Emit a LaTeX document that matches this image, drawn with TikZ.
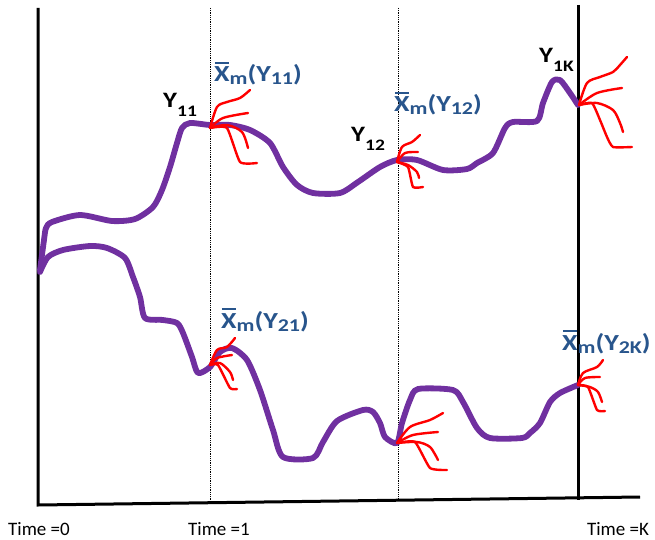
\documentclass[tikz,border=0pt]{standalone}
\usepackage{fontspec}
\setmainfont{Carlito}
\definecolor{pathpurple}{RGB}{112,48,160}
\definecolor{labelblue}{RGB}{40,85,140}
\definecolor{branchred}{RGB}{255,0,0}
\newcommand\barX{\ooalign{X\cr\hfil\rule[0.78em]{0.5em}{0.09em}\hfil\cr}}
\newcommand\xsub[1]{\raisebox{-3pt}{\fontsize{18}{18}\selectfont #1}}
\newcommand\ysub[1]{\raisebox{-9pt}{\fontsize{16}{16}\selectfont #1}}
\newcommand\wide[1]{\scalebox{1.22}[1]{#1}}
\begin{document}
\begin{tikzpicture}[x=1pt,y=-1pt,
  axis/.style={line width=3pt},
  timeline/.style={line width=0.8pt, densely dotted},
  traj/.style={pathpurple, line width=5.8pt, line join=round, line cap=round},
  branch/.style={branchred, line width=2.4pt, line cap=round, line join=round},
  ylab/.style={font=\bfseries\fontsize{22}{24}\selectfont, inner sep=0pt, anchor=base west},
  xlab/.style={labelblue, font=\bfseries\fontsize{23}{26}\selectfont, inner sep=0pt, anchor=base west},
  tlab/.style={font=\fontsize{19}{21}\selectfont, inner sep=0pt, anchor=base}]
\useasboundingbox (0,0) rectangle (655,540);

% axes and time lines
\draw[axis] (38,8) -- (38,505) -- (640,497);
\draw[axis] (578,5) -- (578,500);
\draw[timeline] (210,8) -- (210,503);
\draw[timeline] (398,8) -- (398,501);

% time labels
\node[tlab] (t0) at (39,535) {Time =0};
\node[tlab] (t1) at (219,535) {Time =1};
\node[tlab] (tk) at (618,535) {Time =K};

% trajectories
\draw[traj] plot[smooth, tension=0.45] coordinates {(40,270) (44,240) (46,228) (52,222) (80,215) (112,221) (135,219) (153,207) (162,190) (170,167) (177,143) (182,128) (190,123) (210,125) (230,125) (250,130) (270,143) (283,167) (297,185) (313,193) (340,193) (358,182) (380,167) (397,160) (417,160) (443,170) (467,169) (477,163) (493,153) (505,128) (513,122) (537,121) (543,103) (552,82) (560,80) (570,93) (578,105)};
\draw[traj] plot[smooth, tension=0.45] coordinates {(40,272) (48,257) (63,250) (90,246) (107,248) (125,258) (133,277) (140,297) (145,318) (163,320) (177,323) (183,333) (192,357) (198,373) (210,367) (220,352) (232,348) (247,360) (260,390) (273,430) (283,457) (313,458) (323,442) (337,421) (363,410) (373,412) (380,423) (385,437) (397,443) (402,423) (410,400) (418,389) (453,390) (463,402) (477,428) (490,438) (522,438) (530,433) (540,423) (550,402) (560,393) (578,385)};

% branches at Y11
\draw[branch] plot[smooth, tension=0.5] coordinates {(210,128) (217,107) (227,102) (240,98) (250,90)};
\draw[branch] plot[smooth, tension=0.5] coordinates {(210,128) (223,118) (248,113)};
\draw[branch] plot[smooth, tension=0.5] coordinates {(210,128) (227,125) (242,132) (248,148)};
\draw[branch] plot[smooth, tension=0.3] coordinates {(210,128) (227,128) (240,162) (257,163)};

% branches at Y12
\draw[branch] plot[smooth, tension=0.5] coordinates {(397,162) (402,147) (412,142) (420,135)};
\draw[branch] plot[smooth, tension=0.5] coordinates {(397,162) (405,153) (418,152)};
\draw[branch] plot[smooth, tension=0.5] coordinates {(397,162) (408,165) (417,172) (419,178)};
\draw[branch] plot[smooth, tension=0.3] coordinates {(397,162) (408,167) (413,187) (423,187)};

% branches at Y1K
\draw[branch] plot[smooth, tension=0.5] coordinates {(579,105) (587,83) (600,77) (613,72) (620,65) (627,57)};
\draw[branch] plot[smooth, tension=0.5] coordinates {(579,105) (597,93) (622,88)};
\draw[branch] plot[smooth, tension=0.5] coordinates {(579,105) (597,103) (613,110) (620,123) (623,132)};
\draw[branch] plot[smooth, tension=0.3] coordinates {(579,105) (592,103) (600,120) (607,137) (613,147) (632,147)};

% branches at Y21
\draw[branch] plot[smooth, tension=0.5] coordinates {(210,365) (217,350) (227,347) (235,338)};
\draw[branch] plot[smooth, tension=0.5] coordinates {(210,365) (217,358) (232,355)};
\draw[branch] plot[smooth, tension=0.5] coordinates {(210,365) (220,363) (230,372) (233,380)};
\draw[branch] plot[smooth, tension=0.3] coordinates {(210,365) (218,365) (230,388) (237,389)};

% branches at second time point, lower path
\draw[branch] plot[smooth, tension=0.5] coordinates {(397,443) (410,427) (430,420) (443,413)};
\draw[branch] plot[smooth, tension=0.5] coordinates {(397,443) (413,435) (438,432)};
\draw[branch] plot[smooth, tension=0.5] coordinates {(397,443) (417,442) (430,447) (438,460)};
\draw[branch] plot[smooth, tension=0.3] coordinates {(397,443) (415,442) (430,468) (447,470)};

% branches at Y2K
\draw[branch] plot[smooth, tension=0.5] coordinates {(578,385) (583,373) (597,367) (603,360)};
\draw[branch] plot[smooth, tension=0.5] coordinates {(578,385) (585,378) (600,377)};
\draw[branch] plot[smooth, tension=0.5] coordinates {(578,385) (590,387) (598,392) (602,402)};
\draw[branch] plot[smooth, tension=0.3] coordinates {(578,385) (588,387) (597,410) (605,411)};

% labels
\node[ylab] (y11) at (163,108) {\wide{Y\ysub{11}}};
\node[ylab] (y12) at (351,142) {\wide{Y\ysub{12}}};
\node[ylab] (y1k) at (539,63) {\wide{Y\ysub{1K}}};
\node[xlab] (x11) at (214,82) {\wide{\barX\xsub{m}(Y\xsub{11})}};
\node[xlab] (x12) at (394,112) {\wide{\barX\xsub{m}(Y\xsub{12})}};
\node[xlab] (x21) at (221,328) {\wide{\barX\xsub{m}(Y\xsub{21})}};
\node[xlab] (x2k) at (562,350) {\wide{\barX\xsub{m}(Y\xsub{2K})}};
\end{tikzpicture}
\end{document}
